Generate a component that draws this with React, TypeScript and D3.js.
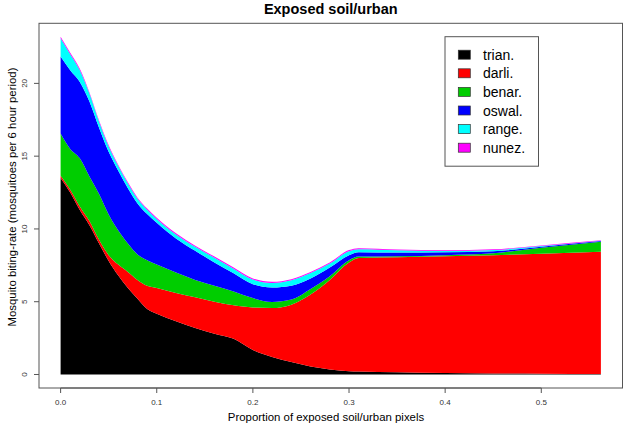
import React from "react";
import * as d3 from "d3";

const xs = [0, 0.01, 0.02, 0.03, 0.04, 0.05, 0.06, 0.07, 0.08, 0.09, 0.1, 0.12, 0.14, 0.16, 0.18, 0.2, 0.22, 0.24, 0.26, 0.28, 0.3, 0.31, 0.35, 0.4, 0.45, 0.5, 0.562];

const trian = [13.5, 12.5, 11.3, 10.25, 9.0, 7.8, 6.8, 5.95, 5.2, 4.5, 4.18, 3.65, 3.2, 2.8, 2.45, 1.68, 1.2, 0.85, 0.55, 0.35, 0.22, 0.2, 0.15, 0.1, 0.07, 0.05, 0.03];
const darli = [0.15, 0.2, 0.25, 0.3, 0.25, 0.4, 0.75, 1.1, 1.3, 1.6, 1.77, 1.95, 2.1, 2.2, 2.3, 2.92, 3.37, 3.95, 4.95, 6.15, 7.48, 7.8, 7.9, 8.02, 8.13, 8.25, 8.41];
const benar = [2.9, 2.8, 3.3, 3.05, 3.15, 2.8, 2.35, 1.95, 1.75, 1.75, 1.6, 1.4, 1.2, 1.1, 0.95, 0.65, 0.41, 0.35, 0.38, 0.25, 0.15, 0.1, 0.07, 0.08, 0.13, 0.4, 0.68];
const oswal = [5.3, 5.4, 5.25, 5.15, 4.55, 4.3, 4.1, 3.8, 3.5, 3.17, 2.87, 2.35, 2.0, 1.6, 1.25, 0.95, 1.0, 0.95, 0.72, 0.6, 0.35, 0.3, 0.26, 0.2, 0.14, 0.08, 0.05];
const range = [1.25, 1.1, 0.8, 0.55, 0.42, 0.37, 0.32, 0.32, 0.32, 0.3, 0.27, 0.27, 0.27, 0.32, 0.32, 0.32, 0.31, 0.37, 0.37, 0.27, 0.27, 0.2, 0.15, 0.08, 0.08, 0.05, 0.02];
const nunez = [0.1, 0.1, 0.1, 0.08, 0.08, 0.08, 0.08, 0.08, 0.08, 0.08, 0.08, 0.08, 0.08, 0.08, 0.08, 0.08, 0.08, 0.08, 0.08, 0.08, 0.08, 0.08, 0.05, 0.05, 0.05, 0.04, 0.03];

const seriesNames = ["trian.", "darli.", "benar.", "oswal.", "range.", "nunez."];
const seriesColors = ["#000000", "#FF0000", "#00CD00", "#0000FF", "#00FFFF", "#FF00FF"];
const xTicks = [0, 0.1, 0.2, 0.3, 0.4, 0.5];
const yTicks = [0, 5, 10, 15, 20];

const W = 624;
const H = 427;
const plotL = 39;
const plotR = 622.5;
const plotT = 23.3;
const plotB = 388;
const FONT = "'Liberation Sans', Arial, sans-serif";

export default function App() {
  const keys = ["trian", "darli", "benar", "oswal", "range", "nunez"];
  const cols = [trian, darli, benar, oswal, range, nunez];
  const rows = xs.map((x, i) => {
    const r: any = { x };
    keys.forEach((k, j) => (r[k] = cols[j][i]));
    return r;
  });
  const stacked = d3.stack().keys(keys)(rows);
  const xMin = d3.min(xs)!;
  const xMax = d3.max(xs)!;
  const yMax = d3.max(stacked[stacked.length - 1], (d) => d[1])!;
  const xPad = (xMax - xMin) * 0.04;
  const yPad = yMax * 0.04;
  const x = d3.scaleLinear().domain([xMin - xPad, xMax + xPad]).range([plotL, plotR]);
  const y = d3.scaleLinear().domain([-yPad, yMax + yPad]).range([plotB, plotT]);
  const area = d3
    .area<any>()
    .x((d) => x(d.data.x))
    .y0((d) => y(d[0]))
    .y1((d) => y(d[1]))
    .curve(d3.curveMonotoneX);

  const legX = 445;
  const legY = 36.7;
  const legW = 93.5;
  const legH = 129.5;
  const rowH = 18.6;

  return (
    <svg width={W} height={H} style={{ position: "absolute", left: 0, top: 0, background: "#fff" }} fontFamily={FONT}>
      <rect x={0} y={0} width={W} height={H} fill="#fff" />
      <text x={(plotL + plotR) / 2} y={14} textAnchor="middle" fontWeight="bold" fontSize={14.5} fill="#000">
        Exposed soil/urban
      </text>
      {stacked.map((s, i) => (
        <path key={i} d={area(s as any) || ""} fill={seriesColors[i]} stroke="none" />
      ))}
      <rect x={plotL} y={plotT} width={plotR - plotL} height={plotB - plotT} fill="none" stroke="#555" strokeWidth={1} />
      {xTicks.map((t) => (
        <g key={t}>
          <line x1={x(t)} x2={x(t)} y1={plotB} y2={plotB + 5} stroke="#555" />
          <text x={x(t)} y={405} textAnchor="middle" fontSize={8} fill="#333">
            {t.toFixed(1)}
          </text>
        </g>
      ))}
      <line x1={x(0)} x2={x(0.5)} y1={plotB} y2={plotB} stroke="#555" />
      {yTicks.map((t) => (
        <g key={t}>
          <line x1={plotL} x2={plotL - 5} y1={y(t)} y2={y(t)} stroke="#555" />
          <text transform={`translate(27,${y(t)}) rotate(-90)`} textAnchor="middle" fontSize={8} fill="#333">
            {t}
          </text>
        </g>
      ))}
      <text x={326} y={421} textAnchor="middle" fontSize={11.4} fill="#000">
        Proportion of exposed soil/urban pixels
      </text>
      <text transform={`translate(16,197) rotate(-90)`} textAnchor="middle" fontSize={11.4} fill="#000">
        Mosquito biting-rate (mosquitoes per 6 hour period)
      </text>
      <rect x={legX} y={legY} width={legW} height={legH} fill="#fff" stroke="#555" />
      {seriesNames.map((n, i) => (
        <g key={n}>
          <rect x={458.3} y={legY + 13.5 + i * rowH} width={12} height={9} fill={seriesColors[i]} stroke="#333" strokeWidth={0.7} />
          <text x={483} y={legY + 23 + i * rowH} fontSize={14} fill="#000">
            {n}
          </text>
        </g>
      ))}
    </svg>
  );
}
